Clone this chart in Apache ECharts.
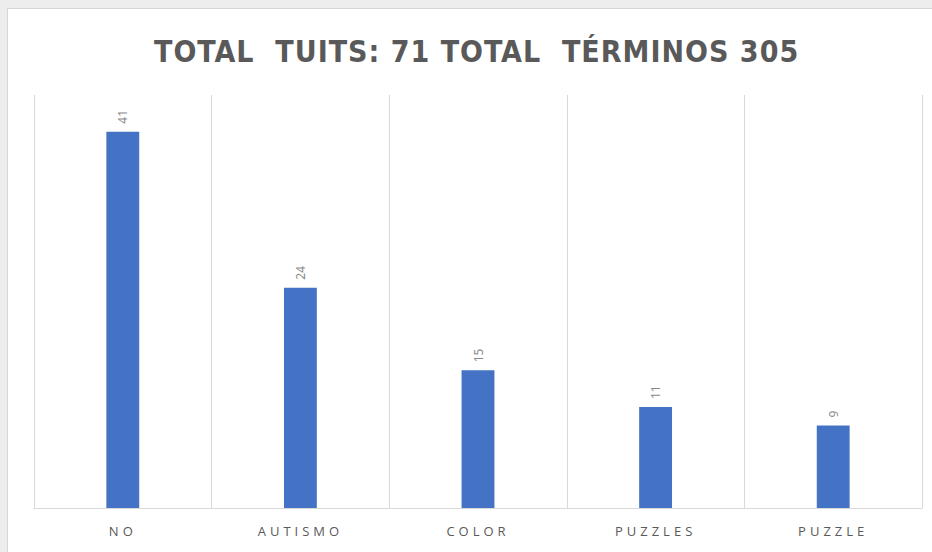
<!DOCTYPE html>
<html>
<head>
<meta charset="utf-8">
<script src="https://cdn.jsdelivr.net/npm/echarts@6/dist/echarts.min.js"></script>
<style>
  html, body { margin: 0; padding: 0; background: #ededed; }
  #main {
    position: absolute; left: 7px; top: 8px;
    width: 924px; height: 543px;
    background: #fff;
    border-left: 1px solid #d6d6d6; border-top: 1px solid #d6d6d6;
  }
  /* espaciado de letras (solo funciona con renderer svg) */
  #main text[style*="Open Sans"] { letter-spacing: 4px; }
  #main text[style*="DejaVu Sans Condensed"] { letter-spacing: 1px; }
</style>
</head>
<body>
<div id="main"></div>
<script>
// datos
const categorias = ["NO", "AUTISMO", "COLOR", "PUZZLES", "PUZZLE"];
const valores = [41, 24, 15, 11, 9];
const titulo = "TOTAL  TUITS: 71 TOTAL  TÉRMINOS 305";

let myChart = echarts.init(document.getElementById("main"), null, { renderer: "svg" });
let option = {
  animation: false,
  title: {
    text: titulo,
    left: 141,
    top: 22,
    textStyle: {
      color: "#595959",
      fontFamily: "DejaVu Sans Condensed",
      fontWeight: "bold",
      fontSize: 30,
    },
  },
  grid: {
    left: 26,
    right: 10,
    top: 86,
    bottom: 44,
  },
  xAxis: {
    type: "category",
    data: categorias,
    axisLine: { lineStyle: { color: "#d9d9d9", width: 1 } },
    axisTick: { show: false },
    splitLine: { show: true, lineStyle: { color: "#d9d9d9", width: 1 } },
    axisLabel: {
      color: "#595959",
      fontFamily: "Open Sans",
      fontSize: 13,
      margin: 16,
    },
  },
  yAxis: {
    type: "value",
    min: 0,
    max: 45,
    show: false,
    splitLine: { show: false },
  },
  series: [
    {
      type: "bar",
      data: valores,
      barWidth: "18.5%",
      itemStyle: { color: "#4472c4" },
      label: {
        show: true,
        position: "top",
        rotate: 90,
        align: "left",
        verticalAlign: "middle",
        distance: 8,
        color: "#8a8a8a",
        fontFamily: "Noto Sans",
        fontSize: 12,
      },
    },
  ],
};
myChart.setOption(option);
</script>
</body>
</html>
